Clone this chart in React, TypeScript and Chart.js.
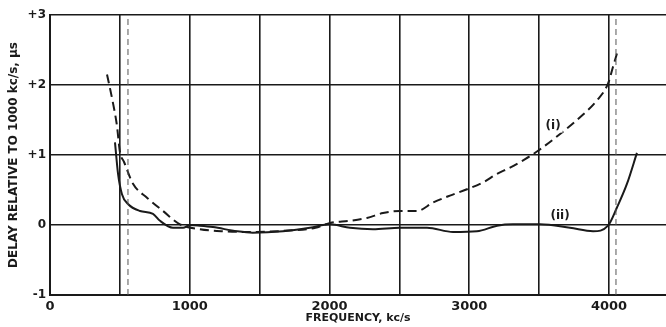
import React, { useEffect, useRef } from 'react';
import Chart from 'chart.js/auto';

// Curve (i): dashed
const freqI = [408, 445, 479, 500, 530, 594, 694, 809, 930, 1073, 1238, 1450, 1700, 1900, 2004, 2147, 2268, 2383, 2504, 2626, 2741, 2862, 2984, 3100, 3199, 3292, 3400, 3492, 3650, 3793, 3914, 3993, 4029, 4057];
const delayI = [2.15, 1.8, 1.42, 1.05, 0.9, 0.59, 0.39, 0.2, 0.01, -0.06, -0.09, -0.1, -0.08, -0.04, 0.03, 0.06, 0.1, 0.17, 0.2, 0.2, 0.32, 0.42, 0.51, 0.61, 0.73, 0.82, 0.94, 1.06, 1.3, 1.54, 1.78, 2.02, 2.26, 2.45];

// Curve (ii): solid
const freqII = [465, 487, 515, 558, 644, 737, 787, 880, 952, 1002, 1073, 1166, 1338, 1450, 1667, 1860, 2004, 2147, 2311, 2504, 2698, 2884, 3055, 3199, 3313, 3506, 3721, 3886, 3993, 4057, 4129, 4200];
const delayII = [1.18, 0.73, 0.44, 0.3, 0.2, 0.16, 0.06, -0.04, -0.04, 0, -0.01, -0.03, -0.09, -0.11, -0.09, -0.04, 0.01, -0.04, -0.06, -0.04, -0.04, -0.1, -0.09, -0.01, 0.01, 0.01, -0.04, -0.09, -0.01, 0.25, 0.59, 1.03];

// Vertical dashed marker lines (band edges)
const markerFreqs = [558, 4050];

const xTickValues = [0, 500, 1000, 1500, 2000, 2500, 3000, 3500, 4000];
const xLabelValues = [0, 1000, 2000, 3000, 4000];
const yMin = -1;
const yMax = 3;
const xMin = 0;
const xMax = 4408;

const curveLabels = ['(i)', '(ii)'];
const curveLabelFreqs = [3600, 3650];
const curveLabelDelays = [1.42, 0.13];

const xTitle = 'FREQUENCY, kc/s';
const yTitle = 'DELAY RELATIVE TO 1000 kc/s, \u03BCs';

const INK = '#1a1a1a';
const FONT = '"DejaVu Sans", sans-serif';

export default function App() {
  const ref = useRef<HTMLCanvasElement | null>(null);

  useEffect(() => {
    if (!ref.current) return;

    const labelPlugin = {
      id: 'curveLabels',
      afterDatasetsDraw(chart: any) {
        const { ctx, scales } = chart;
        ctx.save();
        ctx.font = `bold 12px ${FONT}`;
        ctx.textAlign = 'center';
        ctx.textBaseline = 'middle';
        curveLabels.forEach((t, i) => {
          const px = scales.x.getPixelForValue(curveLabelFreqs[i]);
          const py = scales.y.getPixelForValue(curveLabelDelays[i]);
          ctx.fillStyle = '#fff';
          const w = ctx.measureText(t).width;
          ctx.fillRect(px - w / 2 - 2, py - 7, w + 4, 14);
          ctx.fillStyle = INK;
          ctx.fillText(t, px, py);
        });
        ctx.restore();
      },
    };

    const bgPlugin = {
      id: 'bg',
      beforeDraw(chart: any) {
        const { ctx, width, height } = chart;
        ctx.save();
        ctx.fillStyle = '#fff';
        ctx.fillRect(0, 0, width, height);
        ctx.restore();
      },
    };

    const chart = new Chart(ref.current, {
      type: 'line',
      data: {
        datasets: [
          ...markerFreqs.map((f) => ({
            label: 'marker',
            data: [
              { x: f, y: yMin },
              { x: f, y: yMax },
            ],
            borderColor: '#555',
            borderWidth: 1,
            borderDash: [6, 4],
            pointRadius: 0,
            tension: 0,
          })),
          {
            label: '(i)',
            data: freqI.map((x, i) => ({ x, y: delayI[i] })),
            borderColor: INK,
            borderWidth: 2,
            borderDash: [9, 5],
            pointRadius: 0,
            cubicInterpolationMode: 'monotone' as const,
          },
          {
            label: '(ii)',
            data: freqII.map((x, i) => ({ x, y: delayII[i] })),
            borderColor: INK,
            borderWidth: 2,
            pointRadius: 0,
            cubicInterpolationMode: 'monotone' as const,
          },
        ],
      },
      options: {
        responsive: false,
        animation: false,
        devicePixelRatio: 1,
        layout: { padding: { left: 0, right: 0, top: 15, bottom: 0 } },
        plugins: { legend: { display: false }, tooltip: { enabled: false } },
        scales: {
          x: {
            type: 'linear',
            min: xMin,
            max: xMax,
            afterBuildTicks: (s: any) => {
              s.ticks = xTickValues.map((v) => ({ value: v }));
            },
            afterFit: (s: any) => {
              s.height = 32;
            },
            grid: { color: INK, lineWidth: 1.6, drawTicks: false },
            border: { display: true, color: INK, width: 2 },
            ticks: {
              padding: 4,
              color: INK,
              font: { family: FONT, size: 13, weight: 'bold' },
              maxRotation: 0,
              autoSkip: false,
              callback: (v: any) => (xLabelValues.includes(Number(v)) ? String(v) : ''),
            },
            title: {
              display: true,
              text: xTitle,
              color: INK,
              font: { family: FONT, size: 11, weight: 'bold' },
              padding: { top: 0, bottom: 2 },
            },
          },
          y: {
            type: 'linear',
            min: yMin,
            max: yMax,
            afterFit: (s: any) => {
              s.width = 50;
            },
            grid: { color: INK, lineWidth: 1.6, drawTicks: false },
            border: { display: true, color: INK, width: 2 },
            ticks: {
              stepSize: 1,
              padding: 4,
              color: INK,
              font: { family: FONT, size: 12, weight: 'bold' },
              callback: (v: any) => (Number(v) > 0 ? '+' + v : String(v)),
            },
            title: {
              display: true,
              text: yTitle,
              color: INK,
              font: { family: FONT, size: 12, weight: 'bold' },
              padding: { top: 7, bottom: 0 },
            },
          },
        },
      },
      plugins: [bgPlugin, labelPlugin],
    });

    return () => chart.destroy();
  }, []);

  return (
    <div style={{ position: 'fixed', left: 0, top: 0, width: 666, height: 327, background: '#fff' }}>
      <canvas ref={ref} width={666} height={327} style={{ display: 'block' }} />
    </div>
  );
}
